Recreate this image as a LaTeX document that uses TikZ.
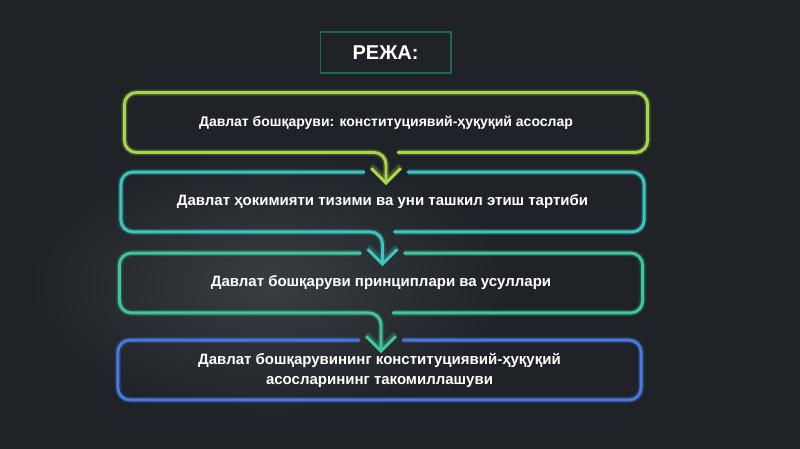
\documentclass[tikz,border=0pt]{standalone}
\usepackage{fontspec}
\setmainfont{Liberation Sans}
\usetikzlibrary{arrows.meta, calc}
\definecolor{bgdark}{HTML}{1F2327}
\definecolor{bglight}{HTML}{383D42}
\definecolor{boxlime}{HTML}{A9D64A}
\definecolor{boxteal}{HTML}{3CC6C2}
\definecolor{boxmint}{HTML}{3DC79A}
\definecolor{boxblue}{HTML}{4A78E2}
\definecolor{titleframe}{HTML}{1D6650}

\begin{document}
\begin{tikzpicture}[x=0.75pt, y=-0.75pt,
  every node/.style={font=\bfseries\fontsize{11.25}{15}\selectfont, text=white},
  planbox/.style={minimum width=392pt, minimum height=44.5pt, inner sep=0pt, align=center},
  frame/.style={draw=#1, line width=2.2pt, rounded corners=9pt, line cap=round,
    preaction={draw=#1, line width=4.5pt, opacity=0.25}},
  conn/.style={frame=#1, -{Straight Barb[length=11pt, width=22pt]}}
]
\useasboundingbox (0,0) rectangle (800,449);
% background
\fill[bgdark] (0,0) rectangle (800,449);
\shade[inner color=bglight, outer color=bgdark] (270,285) ellipse [x radius=240, y radius=135];

% title
\node[draw=titleframe, line width=1pt, fill=bgdark, minimum width=98pt, minimum height=30.75pt,
  font=\bfseries\fontsize{15}{18}\selectfont] (plan) at (385.5,52.5) {РЕЖА:};

% boxes
\node[planbox, font=\bfseries\fontsize{10.5}{15}\selectfont] (b1) at (386,122.5) {Давлат бошқаруви: конституциявий-ҳуқуқий асослар};
\node[planbox] (b2) at (382.5,202) {Давлат ҳокимияти тизими ва уни ташкил этиш тартиби};
\node[planbox] (b3) at (381,283) {Давлат бошқаруви принциплари ва усуллари};
\node[planbox] (b4) at (379.5,370) {Давлат бошқарувининг конституциявий-ҳуқуқий\\асосларининг такомиллашуви};

\coordinate (a1) at (b1.south |- b2.north);
\coordinate (a2) at (b2.south |- b3.north);
\coordinate (a3) at (b3.south |- b4.north);

% frames and arrows
\draw[conn=boxlime] ($(b1.south)+(12,0)$) -| (b1.north east) -| (b1.south west) -- (b1.south) -- ($(a1)+(0,13)$);

\draw[frame=boxteal] ($(a1)+(22,0)$) -| (b2.south east) -- ($(b2.south)+(12,0)$);
\draw[conn=boxteal] ($(a1)+(-22,0)$) -| (b2.south west) -- (b2.south) -- ($(a2)+(0,13)$);

\draw[frame=boxmint] ($(a2)+(22,0)$) -| (b3.south east) -- ($(b3.south)+(12,0)$);
\draw[conn=boxmint] ($(a2)+(-22,0)$) -| (b3.south west) -- (b3.south) -- ($(a3)+(0,13)$);

\draw[frame=boxblue] ($(a3)+(22,0)$) -| (b4.south east) -| (b4.north west) -- ($(a3)+(-22,0)$);
\end{tikzpicture}
\end{document}
